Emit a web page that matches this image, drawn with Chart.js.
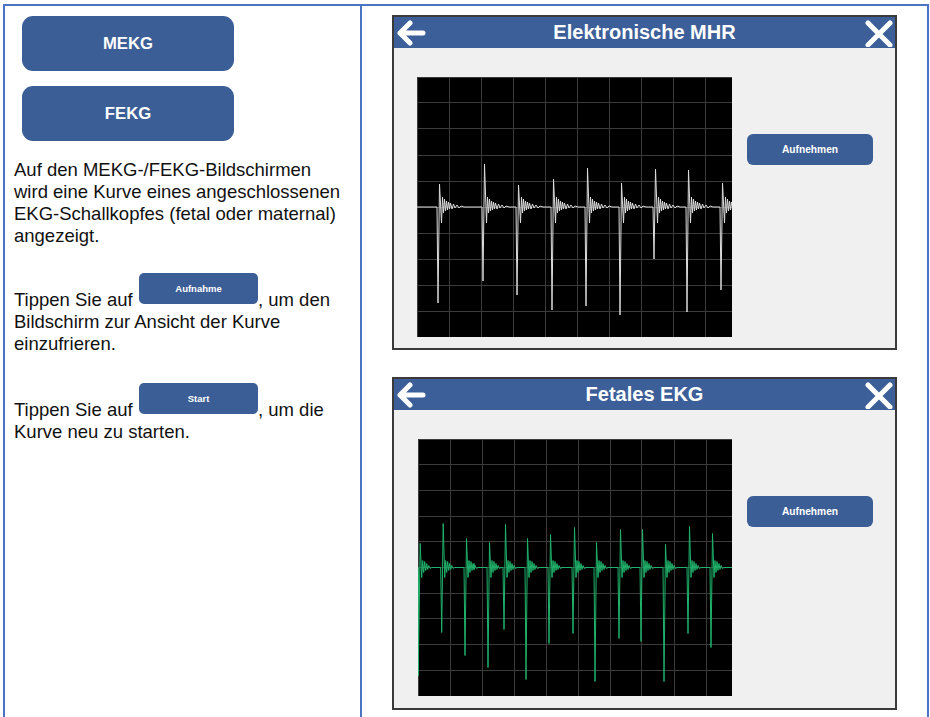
<!DOCTYPE html>
<html>
<head>
<meta charset="utf-8">
<script src="https://cdn.jsdelivr.net/npm/chart.js@4"></script>
<style>
  body { margin: 0; width: 930px; height: 717px; background: #fff; position: relative; overflow: hidden;
         font-family: Arial, "Liberation Sans", sans-serif; }
  .rule { position: absolute; background: #4a74c4; }
  .bigbtn { position: absolute; left: 22px; width: 212px; height: 55px; background: #3c5e96; border-radius: 11px;
            color: #fff; font-weight: bold; font-size: 16.7px; display: flex; align-items: center; justify-content: center; }
  .txt { position: absolute; left: 14px; font-size: 18.5px; line-height: 22px; color: #111; white-space: nowrap; }
  .minibtn { position: absolute; left: 139px; width: 119px; height: 31px; background: #3c5e96; border-radius: 5px;
             color: #fff; font-weight: bold; font-size: 9.5px; display: flex; align-items: center; justify-content: center; }
  .screen { position: absolute; left: 392px; width: 505px; box-sizing: border-box; border: 2px solid #3a3a3a; background: #f0f0f0; }
  .head { position: absolute; left: 0; top: 0; right: 0; height: 31px; background: #3d5f99; color: #fff;
          font-weight: bold; font-size: 20px; display: flex; align-items: center; justify-content: center; }
  .head svg { position: absolute; top: 3px; }
  .rec { position: absolute; left: 353px; width: 126px; height: 31px; background: #3c5e96; border-radius: 6px;
         color: #fff; font-weight: bold; font-size: 10.2px; display: flex; align-items: center; justify-content: center; }
  canvas { position: absolute; background: #000; }
</style>
</head>
<body>
<div class="rule" style="left:3px; top:4px; width:926px; height:1.5px"></div>
<div class="rule" style="left:3px; top:4px; width:2px; height:713px"></div>
<div class="rule" style="left:360px; top:4px; width:1.5px; height:713px"></div>
<div class="rule" style="left:927px; top:4px; width:1.5px; height:713px"></div>

<div class="bigbtn" style="top:16px">MEKG</div>
<div class="bigbtn" style="top:86px">FEKG</div>

<div class="txt" style="top:159px">Auf den MEKG-/FEKG-Bildschirmen<br>wird eine Kurve eines angeschlossenen<br>EKG-Schallkopfes (fetal oder maternal)<br>angezeigt.</div>

<div class="txt" style="top:289px">Tippen Sie auf</div>
<div class="minibtn" style="top:273px">Aufnahme</div>
<div class="txt" style="top:289px; left:258px">, um den</div>
<div class="txt" style="top:311px">Bildschirm zur Ansicht der Kurve<br>einzufrieren.</div>

<div class="txt" style="top:399px">Tippen Sie auf</div>
<div class="minibtn" style="top:383px">Start</div>
<div class="txt" style="top:399px; left:258px">, um die</div>
<div class="txt" style="top:421px">Kurve neu zu starten.</div>

<div class="screen" style="top:15px; height:335px">
  <div class="head">Elektronische MHR
    <svg style="left:1px" width="32" height="26"><path d="M5 13 H28 M5 13 L15 3 M5 13 L15 23" stroke="#fff" stroke-width="5" stroke-linecap="round" fill="none"/></svg>
    <svg style="right:1px" width="30" height="27"><path d="M4 3 L26 25 M26 3 L4 25" stroke="#fff" stroke-width="5" stroke-linecap="round" fill="none"/></svg>
  </div>
  <div class="rec" style="top:117px">Aufnehmen</div>
</div>
<canvas id="mhr" width="315" height="260" style="left:417px; top:77px"></canvas>

<div class="screen" style="top:377px; height:333px">
  <div class="head">Fetales EKG
    <svg style="left:1px" width="32" height="26"><path d="M5 13 H28 M5 13 L15 3 M5 13 L15 23" stroke="#fff" stroke-width="5" stroke-linecap="round" fill="none"/></svg>
    <svg style="right:1px" width="30" height="27"><path d="M4 3 L26 25 M26 3 L4 25" stroke="#fff" stroke-width="5" stroke-linecap="round" fill="none"/></svg>
  </div>
  <div class="rec" style="top:117px">Aufnehmen</div>
</div>
<canvas id="fekg" width="314" height="257" style="left:418px; top:439px"></canvas>

<script>
// maternal ECG (Elektronische MHR): beat positions, R peaks, S troughs
const mhrBeatX = [21, 66, 100, 135, 169, 203, 237, 270, 304];
const mhrPeak = [23, 43, 22, 28, 39, 24, 38, 37, 24];
const mhrTrough = [-96, -74, -88, -103, -99, -108, -52, -105, -83];
// ringing after each complex (offset from beat, amplitude)
const mhrRingDx = [3.5, 4.5, 5.5, 6.5, 7.5, 8.5, 9.5, 10.5, 11.5, 12.5, 14, 15.5, 17, 19, 21, 23, 26, 30];
const mhrRingDy = [-16, 10, -6, 8, -4, 6, -3, 5, -2, 4, -2, 3, -1, 2, -1, 1, 0, 0];

// fetal ECG
const fekgBeatX = [0.7, 23.7, 47, 70, 86, 108, 131, 155, 177, 201, 223, 246, 270, 293];
const fekgPeak = [24, 44, 29, 25, 43, 29, 33, 40, 25, 38, 38, 23, 41, 34];
const fekgTrough = [-108, -65, -88, -100, -62, -112, -76, -66, -114, -71, -74, -114, -66, -80];
const fekgRingDx = [3, 4, 5, 6, 7, 8, 9, 10, 11.5, 13];
const fekgRingDy = [-10, 7, -5, 6, -3, 4, -2, 2, -1, 0];

function buildTrace(beatX, peak, trough, ringDx, ringDy, xMax) {
    const pts = [{ x: 0, y: 0 }];
    beatX.forEach((bx, i) => {
        pts.push({ x: bx - 1, y: 0 });
        pts.push({ x: bx, y: trough[i] });
        pts.push({ x: bx + 1.5, y: peak[i] });
        ringDx.forEach((dx, k) => pts.push({ x: bx + dx, y: ringDy[k] }));
    });
    pts.push({ x: xMax, y: 0 });
    return pts;
}

function drawScope(id, pts, color, xMax, yHalf, xStep, yStep) {
    new Chart(document.getElementById(id), {
        type: 'line',
        data: {
            datasets: [{
                data: pts,
                borderColor: color,
                borderWidth: 1,
                pointRadius: 0,
                tension: 0,
                fill: false,
            }],
        },
        options: {
            animation: false,
            responsive: false,
            events: [],
            layout: { padding: 0 },
            plugins: { legend: { display: false }, tooltip: { enabled: false } },
            scales: {
                x: {
                    type: 'linear', min: 0, max: xMax,
                    ticks: { display: false, stepSize: xStep, includeBounds: false },
                    grid: { color: '#3b3b3b', drawTicks: false },
                    border: { display: false },
                },
                y: {
                    min: -yHalf, max: yHalf,
                    ticks: { display: false, stepSize: yStep, includeBounds: false },
                    grid: { color: '#3b3b3b', drawTicks: false },
                    border: { display: false },
                },
            },
        },
    });
}

drawScope('mhr', buildTrace(mhrBeatX, mhrPeak, mhrTrough, mhrRingDx, mhrRingDy, 315), '#dcdcdc', 315, 130, 32, 26);
drawScope('fekg', buildTrace(fekgBeatX, fekgPeak, fekgTrough, fekgRingDx, fekgRingDy, 314), '#20b36b', 314, 128.5, 32, 25.7);
</script>
</body>
</html>
